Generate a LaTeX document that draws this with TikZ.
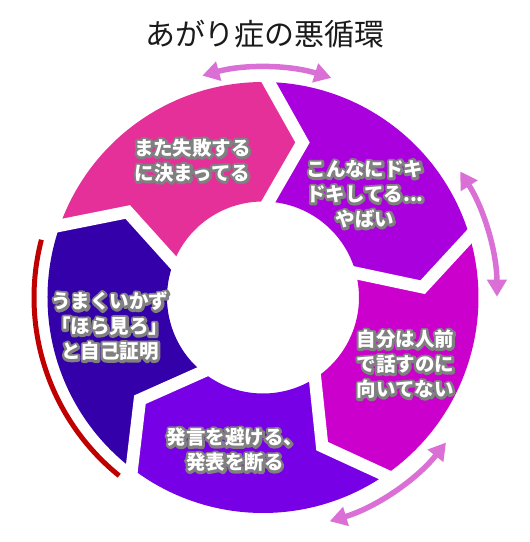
\documentclass[tikz,border=0pt]{standalone}
\usepackage{fontspec}
\newfontfamily\jp{Noto Sans CJK JP}
\usetikzlibrary{calc,arrows.meta}
\definecolor{pinkc}{HTML}{E5309A}
\definecolor{purc}{HTML}{AA00DD}
\definecolor{magc}{HTML}{CC00CC}
\definecolor{vioc}{HTML}{7700E6}
\definecolor{dbc}{HTML}{3300AA}
\definecolor{arrc}{HTML}{DA70D6}
\definecolor{redc}{HTML}{C00000}
\definecolor{outl}{HTML}{808080}
\definecolor{titlec}{HTML}{1A1A1A}
\newcommand\strokeon{\special{pdf:literal direct 1 Tr 5 w 1 j}}
\newcommand\olbl[3]{%
  \node[lbl,text=outl] (#1-o) at (#2) {\strokeon #3};
  \node[lbl,text=white] (#1) at (#2) {#3};}
\begin{document}
\begin{tikzpicture}[
  lbl/.style={font=\jp\bfseries\fontsize{19.5pt}{25pt}\selectfont, align=center, inner sep=0pt},
  gap/.style={white, line width=12.5pt, line join=miter, miter limit=10},
  arr/.style={arrc, line width=5.5pt, {Triangle[length=17pt,width=19pt]}-{Triangle[length=17pt,width=19pt]}},
]
\useasboundingbox (0,0) rectangle (530pt,-542pt);
\node[font=\jp\fontsize{30pt}{33pt}\selectfont, text=titlec, inner sep=0pt] (title) at (265pt,-34.5pt) {あがり症の悪循環};
\begin{scope}[shift={(263pt,-297.5pt)}]
  \foreach \c/\a in {pinkc/160.5, purc/88.5, magc/16.5, vioc/-55.5, dbc/-127.5}{
    \pgfmathsetmacro\b{\a-72}
    \fill[\c] (\a:215.5pt) arc[start angle=\a, end angle=\b, radius=215.5pt]
      -- ({\b-12.8}:160pt) -- ({\b-1.7}:96pt)
      arc[start angle={\b-1.7}, end angle={\a-1.7}, radius=96pt]
      -- ({\a-12.8}:160pt) -- cycle;
  }
  \foreach \a [count=\i] in {88.5,16.5,-55.5,-127.5,160.5}{
    \coordinate (go\i) at (\a:215.5pt);
    \coordinate (gt\i) at ({\a-12.8}:160pt);
    \coordinate (gi\i) at ({\a-1.7}:96pt);
    \draw[gap] ($(gt\i)!1.35!(go\i)$) -- (gt\i) -- ($(gt\i)!1.35!(gi\i)$);
  }
  \draw[arr] (105.3:230pt) arc[start angle=105.3, end angle=72.7, radius=230pt];
  \draw[arr] (32.6:234pt) arc[start angle=32.6, end angle=0.2, radius=234pt];
  \draw[arr] (-38.4:233.5pt) arc[start angle=-38.4, end angle=-73.4, radius=233.5pt];
  \draw[redc, line width=5pt] (165.4:229pt) arc[start angle=165.4, end angle=231.1, radius=229pt];
\end{scope}
\olbl{l1}{192.5pt,-160.6pt}{また失敗する\\に決まってる}
\olbl{l2}{365pt,-194.3pt}{こんなにドキ\\ドキしてる...\\やばい}
\olbl{l3}{405.4pt,-364.4pt}{自分は人前\\で話すのに\\向いてない}
\olbl{l4}{235pt,-450pt}{発言を避ける、\\発表を断る}
\olbl{l5}{110pt,-326.4pt}{うまくいかず\\「ほら見ろ」\\と自己証明}
\end{tikzpicture}
\end{document}
